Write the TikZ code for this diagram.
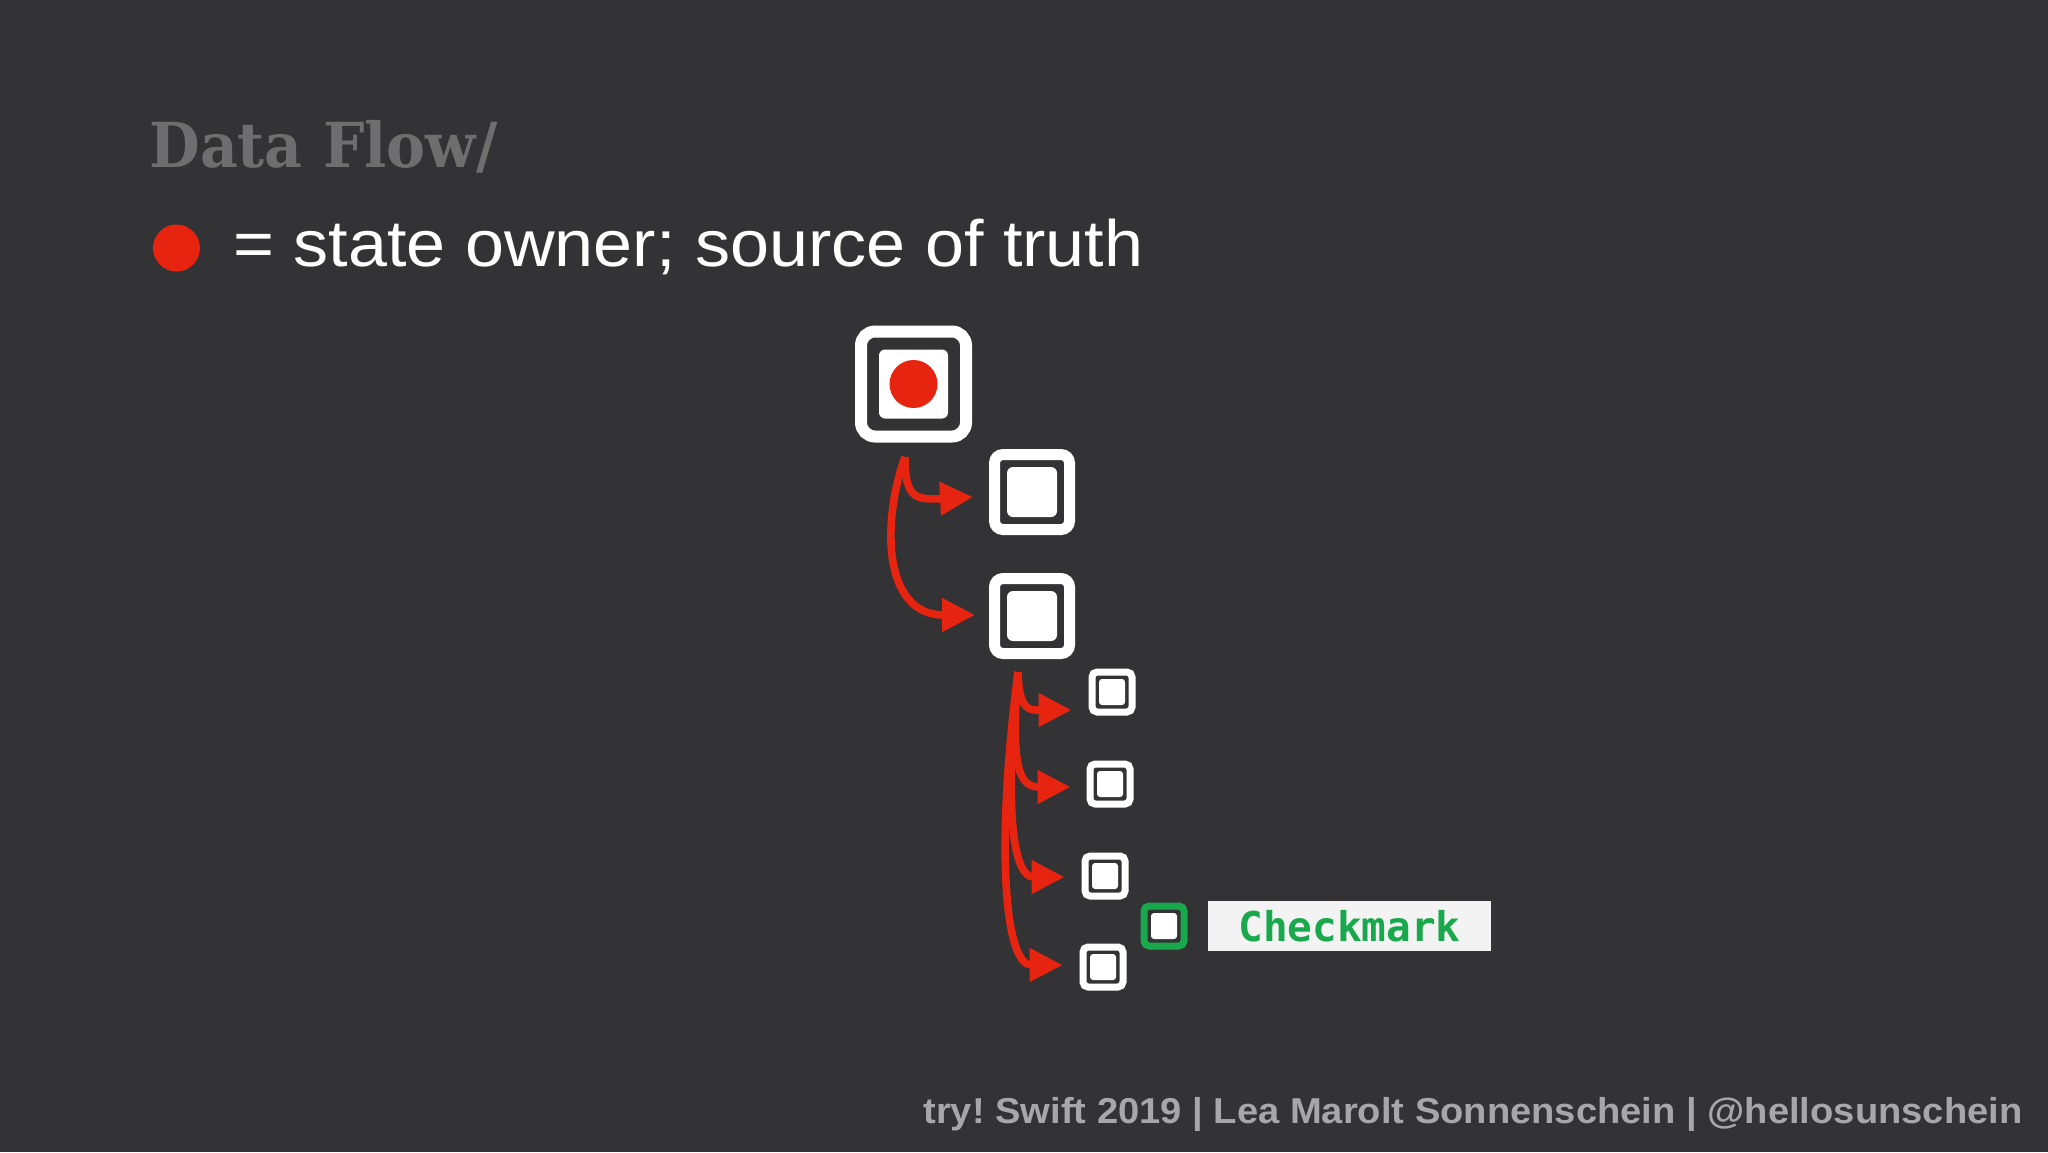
\documentclass[tikz,border=0pt]{standalone}
\usepackage{fontspec}
\setmainfont{Liberation Sans}
\newfontfamily\titlefont{DejaVu Serif}
\newfontfamily\monofont{DejaVu Sans Mono}
\usetikzlibrary{arrows.meta,calc}
\frenchspacing
\definecolor{bg}{HTML}{333235}
\definecolor{ownred}{HTML}{E6240F}
\definecolor{ckgreen}{HTML}{19A84C}
\definecolor{titlegray}{HTML}{6E6E6E}
\definecolor{footgray}{HTML}{A7A6A9}
\definecolor{labelbg}{HTML}{F3F3F3}
\begin{document}
\frenchspacing
\begin{tikzpicture}[x=0.5pt,y=-0.5pt,
  bigframe/.style={draw=white, fill=bg, line width=6pt, rounded corners=7pt, minimum width=52.5pt, minimum height=52.5pt, inner sep=0pt},
  bigcore/.style={fill=white, rounded corners=3pt, minimum size=34.5pt, inner sep=0pt},
  midframe/.style={draw=white, fill=bg, line width=5.5pt, rounded corners=4.25pt, minimum size=37.5pt, inner sep=0pt},
  midcore/.style={fill=white, rounded corners=3pt, minimum size=25pt, inner sep=0pt},
  smallframe/.style={draw=white, fill=bg, line width=3.5pt, rounded corners=2.5pt, minimum size=20pt, inner sep=0pt},
  smallcore/.style={fill=white, rounded corners=1.5pt, minimum size=13pt, inner sep=0pt},
  reddot/.style={circle, fill=ownred, inner sep=0pt},
  flow/.style={draw=ownred, line width=3.8pt, -{Triangle[length=16.5pt,width=16pt]}},
  textline/.style={anchor=base west, inner sep=0pt},
]
\useasboundingbox (0,0) rectangle (2048,1152);
\fill[bg] (0,0) rectangle (2048,1152);

% title and legend
\node[textline, text=titlegray, font=\titlefont\bfseries\fontsize{31pt}{34pt}\selectfont] (title) at (149,167) {\resizebox{174pt}{\height}{Data Flow/}};
\node[reddot, minimum size=23.5pt] (ldot) at (176.5,248) {};
\node[textline, text=white, font=\fontsize{32.75pt}{36pt}\selectfont] (legend) at (233,266) {\resizebox{455pt}{\height}{= state owner; source of truth}};

% boxes
\node[bigframe] (b1) at (913.5,384) {};
\node[bigcore] (b1c) at (b1.center) {};
\node[reddot, minimum size=24pt] (b1dot) at (b1c.center) {};

\node[midframe] (b2) at (1032,492) {};
\node[midcore] (b2c) at (b2.center) {};
\node[midframe] (b3) at (1032,616) {};
\node[midcore] (b3c) at (b3.center) {};

\node[smallframe] (b4) at (1112,692) {};
\node[smallcore] (b4c) at (b4.center) {};
\node[smallframe] (b5) at (1110,784) {};
\node[smallcore] (b5c) at (b5.center) {};
\node[smallframe] (b6) at (1105,876) {};
\node[smallcore] (b6c) at (b6.center) {};
\node[smallframe] (b7) at (1103,967) {};
\node[smallcore] (b7c) at (b7.center) {};

\node[smallframe, draw=ckgreen] (bg1) at (1164,926) {};
\node[smallcore] (bg1c) at (bg1.center) {};
\node[fill=labelbg, minimum width=141.5pt, minimum height=25pt, inner sep=0pt, text=ckgreen, font=\monofont\bfseries\fontsize{20.5pt}{22pt}\selectfont] (lbl) at (1349.5,926) {Checkmark};

% connectors
\coordinate (s1) at (905,457);
\draw[flow] (s1) .. controls (905,498) and (915,500) .. ($(b2.west)+(-16,5)$);
\draw[flow] (s1) .. controls (882,520) and (882,615) .. ($(b3.west)+(-14,-1)$);

\coordinate (s2) at (1018,672);
\draw[flow] (s2) .. controls (1019,712) and (1030,710) .. ($(b4.west)+(-17,18)$);
\draw[flow] (s2) .. controls (1010,770) and (1020,787) .. ($(b5.west)+(-16,3)$);
\draw[flow] (s2) .. controls (1003,820) and (1015,877) .. ($(b6.west)+(-17,1)$);
\draw[flow] (s2) .. controls (995,850) and (1005,965) .. ($(b7.west)+(-17,-2)$);

% footer
\node[textline, text=footgray, font=\bfseries\fontsize{18pt}{20pt}\selectfont] (foot) at (923,1123) {\resizebox{549.5pt}{\height}{try! Swift 2019 | Lea Marolt Sonnenschein | @hellosunschein}};
\end{tikzpicture}
\end{document}
